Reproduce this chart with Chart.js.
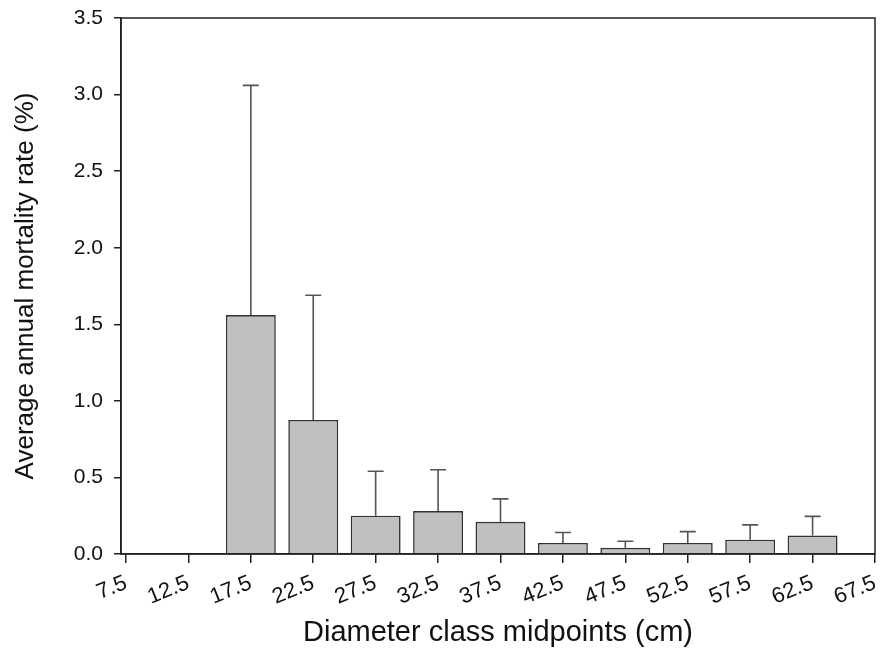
<!DOCTYPE html>
<html>
<head>
<meta charset="utf-8">
<script src="https://cdn.jsdelivr.net/npm/chart.js@4/dist/chart.umd.min.js"></script>
<style>
  html, body { margin: 0; padding: 0; background: #fff; }
  #wrap { width: 881px; height: 650px; }
</style>
</head>
<body>
<div id="wrap"><canvas id="mortalityChart"></canvas></div>
<script>
// diameter class midpoints (cm) with a bar, and their mean mortality (%)
var classMidpoints = [17.5, 22.5, 27.5, 32.5, 37.5, 42.5, 47.5, 52.5, 57.5, 62.5]
var meanMortality = [1.56, 0.875, 0.25, 0.28, 0.21, 0.072, 0.04, 0.072, 0.093, 0.12]
// upper error (SD) above each bar
var errorUp = [1.50, 0.815, 0.29, 0.27, 0.15, 0.068, 0.043, 0.074, 0.097, 0.126]
var xTickValues = [7.5, 12.5, 17.5, 22.5, 27.5, 32.5, 37.5, 42.5, 47.5, 52.5, 57.5, 62.5, 67.5]

var fontFam = 'Arial, "Liberation Sans", sans-serif'

var barPoints = classMidpoints.map(function (m, i) {
    return { x: m, y: meanMortality[i] }
})

// draws the upper error whiskers + box around the plot
var errorBarPlugin = {
    id: 'errorBars',
    afterDatasetsDraw: function (chart) {
        var ctx = chart.ctx
        var xs = chart.scales.x
        var ys = chart.scales.y
        ctx.save()
        ctx.strokeStyle = '#555'
        ctx.lineWidth = 1.6
        for (var i = 0; i < classMidpoints.length; i++) {
            var px = xs.getPixelForValue(classMidpoints[i])
            var y0 = ys.getPixelForValue(meanMortality[i])
            var y1 = ys.getPixelForValue(meanMortality[i] + errorUp[i])
            ctx.beginPath()
            ctx.moveTo(px, y0)
            ctx.lineTo(px, y1)
            ctx.moveTo(px - 8, y1)
            ctx.lineTo(px + 8, y1)
            ctx.stroke()
        }
        var a = chart.chartArea
        ctx.strokeStyle = '#222'
        ctx.lineWidth = 1.5
        ctx.strokeRect(a.left, a.top, a.right - a.left, a.bottom - a.top)
        ctx.restore()
    }
}

var chart = new Chart(document.getElementById('mortalityChart'), {
    type: 'bar',
    data: {
        datasets: [{
            data: barPoints,
            backgroundColor: '#c0c0c0',
            borderColor: '#333',
            borderWidth: 1.6,
            categoryPercentage: 0.8,
            barPercentage: 1.0
        }]
    },
    options: {
        responsive: true,
        maintainAspectRatio: false,
        animation: false,
        layout: { padding: { left: 0, right: 6, top: 18, bottom: 0 } },
        plugins: {
            legend: { display: false },
            tooltip: { enabled: false }
        },
        scales: {
            x: {
                type: 'linear',
                offset: false,
                min: 7.1,
                max: 67.5,
                afterBuildTicks: function (scale) {
                    scale.ticks = xTickValues.map(function (v) { return { value: v } })
                },
                afterFit: function (scale) {
                    scale.height = 96
                    scale.paddingLeft = 0
                    scale.paddingRight = 0
                },
                grid: { offset: false, drawOnChartArea: false, drawTicks: true, tickLength: 9, color: '#222', lineWidth: 1.5 },
                border: { color: '#222', width: 1.5 },
                ticks: {
                    minRotation: 22,
                    maxRotation: 22,
                    color: '#111',
                    font: { family: fontFam, size: 22 },
                    padding: 7,
                    callback: function (v) { return v.toFixed(1) }
                },
                title: {
                    display: true,
                    text: 'Diameter class midpoints (cm)',
                    color: '#111',
                    font: { family: fontFam, size: 29 },
                    padding: { top: 0, bottom: 0 }
                }
            },
            y: {
                min: 0,
                max: 3.5,
                afterFit: function (scale) {
                    scale.width = 121
                    scale.paddingTop = 0
                    scale.paddingBottom = 0
                },
                grid: { drawOnChartArea: false, drawTicks: true, tickLength: 7, color: '#222', lineWidth: 1.5 },
                border: { color: '#222', width: 1.5 },
                ticks: {
                    stepSize: 0.5,
                    color: '#111',
                    font: { family: fontFam, size: 21 },
                    padding: 11,
                    callback: function (v) { return v.toFixed(1) }
                },
                title: {
                    display: true,
                    text: 'Average annual mortality rate (%)',
                    color: '#111',
                    font: { family: fontFam, size: 26 },
                    padding: { top: 10, bottom: 0 }
                }
            }
        }
    },
    plugins: [errorBarPlugin]
})
</script>
</body>
</html>
